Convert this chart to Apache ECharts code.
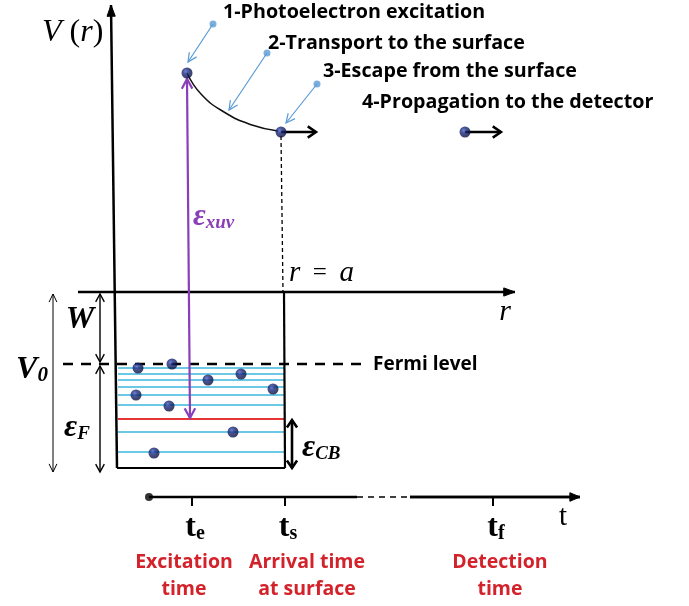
<!DOCTYPE html>
<html><head><meta charset="utf-8">
<script src="https://cdn.jsdelivr.net/npm/echarts@6.0.0/dist/echarts.min.js"></script>
<style>html,body{margin:0;padding:0;background:#fff}#c{width:689px;height:606px}</style>
</head><body><div id="c"></div>
<script>
// ---------- data (diagram coordinates: x to the right, y downward) ----------
const vAxisLine = [[111,5],[117,468]];
const rAxisLine = [[78,292],[515,292]];
const wellFloor = [[117,468],[285,468]];
const wellRightWall = [[284,292],[285,468]];
const surfaceDashed = [[281,136],[283,292]];
const fermiDashed = [[63,364],[367,364]];
const levelXRange = [118,284];
const cyanLevelsY = [368,374,380,387,395,405,432,452];
const redLevelY = [419];
const purpleArrow = [[187,79],[190,418]];
const transportCurve = [[187,73],[201,94],[224,112],[252,125],[278,131]];
const escapeArrow = [[281,132],[316,132]];
const propagationArrow = [[465,132],[501,132]];
const electronsWell = [[138,368],[172,364],[208,380],[241,374],[273,389],[136,395],[169,406],[233,432],[154,453]];
const electronsFree = [[187,73],[281,132],[465,132]];
const annotationArrows = [[[213,24],[188,62]],[[267,53],[229,110]],[[317,84],[286,123]]];
const wArrow = [[100,294],[100,362]];
const v0Arrow = [[53,294],[53,472]];
const efArrow = [[100,366],[100,472]];
const cbArrow = [[292,420],[292,468]];
const timeAxisSolid = [[[149,497],[357,497]],[[410,497],[580,497]]];
const timeAxisDashed = [[357,497],[410,497]];
const timeAxisStart = [[149,497]];
const timeTicksX = [192,285,493];
const timeTickY = [497,506];
const timeTickSubs = ['e','s','f'];
const timeEventLabels = ['Excitation\ntime','Arrival time\nat surface','Detection\ntime'];
const timeEventX = [184,307,500];
const stepLabels = ['1-Photoelectron excitation','2-Transport to the surface','3-Escape from the surface','4-Propagation to the detector'];
const stepLabelPos = [[223,12],[268,43],[323,71],[362,102]];

// ---------- helpers ----------
function head(from, to, o) {
  const ang = Math.atan2(to[1]-from[1], to[0]-from[0]);
  const L = o.headLen || 10, a = o.headAng || 0.45;
  const pa = [to[0]-L*Math.cos(ang-a), to[1]-L*Math.sin(ang-a)];
  const pb = [to[0]-L*Math.cos(ang+a), to[1]-L*Math.sin(ang+a)];
  if (o.filled) {
    return {type:'polygon', shape:{points:[pa,to,pb]}, style:{fill:o.color, stroke:o.color, lineWidth:1}};
  }
  return {type:'polyline', shape:{points:[pa,to,pb]}, style:{stroke:o.color, lineWidth:o.headWidth||o.width, fill:null, lineJoin:'miter'}};
}
function segSeries(segs, o) {
  return {
    type:'custom', coordinateSystem:'cartesian2d', silent:true, z:o.z||2,
    data: segs.map(s => [s[0][0], s[0][1], s[1][0], s[1][1]]),
    renderItem(params, api) {
      const p1 = api.coord([api.value(0), api.value(1)]);
      const p2 = api.coord([api.value(2), api.value(3)]);
      const children = [{type:'line', shape:{x1:p1[0],y1:p1[1],x2:p2[0],y2:p2[1]},
        style:{stroke:o.color, lineWidth:o.width, lineDash:o.dash||null, lineCap:o.cap||'butt'}}];
      if (o.head2) children.push(head(p1, p2, o));
      if (o.head1) children.push(head(p2, p1, o));
      return {type:'group', children};
    }
  };
}
function textSeries(items) {
  return {
    type:'custom', coordinateSystem:'cartesian2d', silent:true, z:5,
    data: items.map(t => t.pos),
    renderItem(params, api) {
      const t = items[params.dataIndex];
      const p = api.coord([api.value(0), api.value(1)]);
      return {type:'text', x:p[0], y:p[1], style:Object.assign({
        align:'left', verticalAlign:'middle', fill:'#000'}, t.style)};
    }
  };
}

const SANS = '"Open Sans", Lato, sans-serif';
const SERIF = '"Liberation Serif", "DejaVu Serif", serif';
const CYAN = '#3cb6dc', RED = '#e53535', PURPLE = '#8a3fb8', BLUE = '#5b9bd5', LRED = '#d4222b';

const texts = [];
stepLabels.forEach((s,i) => texts.push({pos:stepLabelPos[i], style:{text:s, font:'bold 19.7px '+SANS}}));
texts.push({pos:[42,33], style:{text:'{i|V}{n| (}{i|r}{n|)}', rich:{
  i:{fontFamily:SERIF, fontStyle:'italic', fontSize:32, fill:'#000'},
  n:{fontFamily:SERIF, fontSize:32, fill:'#000'}}}});
texts.push({pos:[193,217], style:{text:'{e|ε}{s|xuv}', rich:{
  e:{fontFamily:SERIF, fontStyle:'italic', fontWeight:'bold', fontSize:31, fill:PURPLE},
  s:{fontFamily:SERIF, fontStyle:'italic', fontWeight:'bold', fontSize:19, fill:PURPLE, padding:[12,0,0,0]}}}});
texts.push({pos:[289,273], style:{text:'{i|r}{n|  =  }{i|a}', rich:{
  i:{fontFamily:SERIF, fontStyle:'italic', fontSize:29, fill:'#000'},
  n:{fontFamily:SERIF, fontSize:25, fill:'#000'}}}});
texts.push({pos:[505,312], style:{text:'r', font:'italic 30px '+SERIF, align:'center'}});
texts.push({pos:[80,320], style:{text:'W', font:'italic bold 32px '+SERIF, align:'center'}});
texts.push({pos:[32,370], style:{text:'{v|V}{s|0}', align:'center', rich:{
  v:{fontFamily:SERIF, fontStyle:'italic', fontWeight:'bold', fontSize:32, fill:'#000'},
  s:{fontFamily:SERIF, fontStyle:'italic', fontWeight:'bold', fontSize:21, fill:'#000', padding:[12,0,0,0]}}}});
texts.push({pos:[77,428], style:{text:'{e|ε}{s|F}', align:'center', rich:{
  e:{fontFamily:SERIF, fontStyle:'italic', fontWeight:'bold', fontSize:32, fill:'#000'},
  s:{fontFamily:SERIF, fontStyle:'italic', fontWeight:'bold', fontSize:19, fill:'#000', padding:[12,0,0,0]}}}});
texts.push({pos:[302,448], style:{text:'{e|ε}{s|CB}', rich:{
  e:{fontFamily:SERIF, fontStyle:'italic', fontWeight:'bold', fontSize:32, fill:'#000'},
  s:{fontFamily:SERIF, fontStyle:'italic', fontWeight:'bold', fontSize:19, fill:'#000', padding:[12,0,0,0]}}}});
texts.push({pos:[373,365], style:{text:'Fermi level', font:'bold 19px '+SANS}});
timeTicksX.forEach((x,i) => texts.push({pos:[x+3,528], style:{text:'{t|t}{s|'+timeTickSubs[i]+'}', align:'center', rich:{
  t:{fontFamily:SERIF, fontWeight:'bold', fontSize:32, fill:'#000'},
  s:{fontFamily:SERIF, fontWeight:'bold', fontSize:20, fill:'#000', padding:[12,0,0,0]}}}}));
texts.push({pos:[563,517], style:{text:'t', font:'29px '+SERIF, align:'center'}});
timeEventLabels.forEach((s,i) => texts.push({pos:[timeEventX[i],576], style:{text:s, font:'bold 19.5px '+SANS, fill:LRED, align:'center', lineHeight:27}}));

const series = [
  segSeries([vAxisLine.slice().reverse()], {color:'#000', width:2.5, head2:true, filled:true, headLen:12, headAng:0.35}),
  segSeries([rAxisLine], {color:'#000', width:2.5, head2:true, filled:true, headLen:12, headAng:0.35}),
  segSeries([wellFloor, wellRightWall], {color:'#000', width:2.2}),
  segSeries([surfaceDashed], {color:'#000', width:1.3, dash:[4,3]}),
  segSeries([fermiDashed], {color:'#000', width:2.6, dash:[10,8]}),
  segSeries(cyanLevelsY.map(y => [[levelXRange[0],y],[levelXRange[1],y]]), {color:CYAN, width:1.6, z:1}),
  segSeries(redLevelY.map(y => [[levelXRange[0],y],[levelXRange[1],y]]), {color:RED, width:1.8, z:1}),
  segSeries([purpleArrow], {color:PURPLE, width:2.2, head1:true, head2:true, headLen:11, headAng:0.5}),
  segSeries([escapeArrow, propagationArrow], {color:'#000', width:2.5, head2:true, headLen:10, headAng:0.6}),
  segSeries(annotationArrows, {color:BLUE, width:1.2, head2:true, headLen:10, headAng:0.45}),
  segSeries([wArrow, efArrow], {color:'#000', width:1.4, head1:true, head2:true, headLen:9, headAng:0.5}),
  segSeries([v0Arrow], {color:'#000', width:1, head1:true, head2:true, headLen:9, headAng:0.45}),
  segSeries([cbArrow], {color:'#000', width:2.6, head1:true, head2:true, headLen:9, headAng:0.6}),
  segSeries(timeAxisSolid, {color:'#000', width:2.5}),
  segSeries([timeAxisSolid[1]], {color:'#000', width:2.5, head2:true, filled:true, headLen:11, headAng:0.4}),
  segSeries([timeAxisDashed], {color:'#000', width:1.3, dash:[6,5]}),
  segSeries(timeTicksX.map(x => [[x,timeTickY[0]],[x,timeTickY[1]]]), {color:'#000', width:2}),
  {type:'line', data:transportCurve, smooth:0.5, showSymbol:false, silent:true, z:2,
   lineStyle:{color:'#111', width:1.5}},
  {type:'scatter', data:timeAxisStart, symbolSize:8, silent:true, z:3, itemStyle:{color:'#000'}},
  {type:'scatter', data:electronsWell.concat(electronsFree), symbolSize:11, silent:true, z:4,
   itemStyle:{color:{type:'radial', x:0.38, y:0.35, r:0.7, colorStops:[
     {offset:0, color:'#4b62c8'},{offset:0.35, color:'#1b2a7c'},{offset:1, color:'#060b33'}]}}},
  {type:'scatter', data:annotationArrows.map(a => a[0]), symbolSize:7, silent:true, z:4, itemStyle:{color:BLUE}},
  textSeries(texts)
];

const chart = echarts.init(document.getElementById('c'), null, {renderer:'canvas'});
chart.setOption({
  animation:false,
  backgroundColor:'#fff',
  grid:{left:0, right:0, top:0, bottom:0, containLabel:false},
  xAxis:{type:'value', min:0, max:689, show:false},
  yAxis:{type:'value', min:0, max:606, inverse:true, show:false},
  series
});
</script></body></html>
